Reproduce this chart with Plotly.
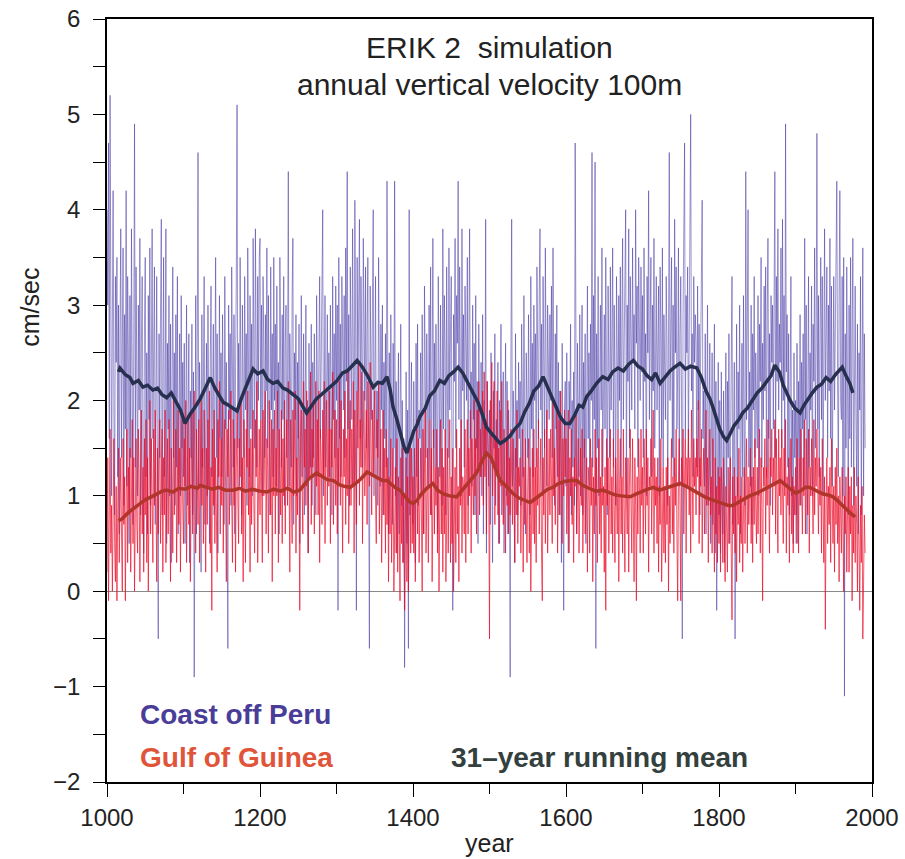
import plotly.graph_objects as go

# ---------------- data (values in tenths of cm/sec, one per year) ----------------
start_year = 1000

peru_1000s = [40,30,47,16,52,35,10,28,42,19, 8,33,24,35,12,30,6,27,38,14, 22,36,9,29,17,42,11,33,25,5,
              31,14,38,20,7,27,49,13,34,22, 10,30,19,37,8,26,33,15,4,28, 35,12,25,6,31,18,36,9,24,38,
              16,29,34,7,21,33,11,-5,27,14, 30,39,8,24,35,12,19,38,5,26, 17,31,10,28,3,22,34,14,25,9,
              29,13,33,6,20,27,10,31,15,24]
peru_1100s = [12,26,5,22,30,9,18,27,3,21, 14,28,8,23,-9,19,31,6,25,46, 11,24,17,2,29,13,21,33,7,18,
              26,10,30,15,5,24,32,12,20,28, 8,22,35,14,27,4,19,31,16,25, 12,29,20,7,33,17,24,10,-6,30,
              18,27,9,34,21,13,29,6,23,32, 51,15,26,11,35,20,8,30,24,14, 33,19,27,9,36,22,12,31,17,28,
              10,37,24,15,38,29,13,33,20,35]
peru_1200s = [37,18,30,10,33,25,14,29,21,36, 15,31,22,8,34,19,27,12,35,20, 28,11,32,17,24,6,35,21,13,29,
              18,33,9,26,30,14,22,44,11,27, 21,13,31,37,7,25,18,29,10,24, 16,28,5,23,31,12,19,27,8,22,
              30,11,20,4,26,17,13,28,9,24, 14,27,19,8,31,22,12,25,33,16, 23,35,40,10,26,31,13,20,29,17,
              25,12,30,21,8,33,18,27,14,32]
peru_1300s = [20,30,-2,35,16,28,12,33,24,19, 31,14,36,22,44,17,29,9,34,26, 18,38,23,11,41,27,-2,35,21,30,
              39,16,33,25,13,37,28,20,34,15, 27,35,12,-6,32,24,18,30,40,10, 26,33,15,21,9,35,23,11,28,19,
              30,8,24,16,27,13,43,20,6,25, 12,29,18,7,26,15,43,10,22,4, 18,25,6,14,28,9,20,3,16,-8,
              11,23,5,19,-6,40,8,17,24,13]
peru_1400s = [7,22,15,3,26,12,28,9,19,16, 25,10,29,17,6,32,21,14,27,20, 11,30,18,34,8,23,37,15,26,13,
              28,19,6,33,24,12,30,20,9,38, 17,31,25,8,34,21,14,36,19,27, 33,12,-2,29,22,37,15,31,26,43,
              18,34,24,10,38,21,29,13,32,25, 20,35,9,27,38,16,23,11,30,18, 26,8,31,15,22,5,28,17,12,24,
              10,29,6,20,14,39,4,22,16,11]
peru_1500s = [19,7,25,13,3,21,15,27,9,18, 12,24,5,20,16,28,8,17,23,4, 15,26,10,22,6,19,14,-9,25,39,
              11,21,17,3,27,13,20,8,24,16, 22,9,28,15,12,31,18,6,25,19, 14,29,21,8,33,17,26,12,30,20,
              27,13,34,22,16,31,38,19,28,10, 33,24,15,36,21,11,30,25,18,29, 20,32,14,36,23,9,27,17,30,12,
              24,8,21,16,3,26,13,-2,19,22]
peru_1600s = [11,25,14,4,22,17,28,8,20,13, 23,9,47,15,6,26,18,12,29,10, 19,30,8,24,14,27,5,21,32,16,
              25,11,28,20,46,13,31,18,45,-6, 27,15,33,10,24,30,19,36,12,22, 29,17,35,21,8,32,24,14,34,19,
              26,36,13,30,22,9,33,25,17,31, 20,34,12,28,37,18,26,31,40,10, 30,22,38,15,33,27,19,36,24,29,
              17,40,26,32,13,35,28,20,34,23]
peru_1700s = [31,14,36,22,27,10,33,25,42,18, 28,35,12,30,21,37,15,26,33,19, 24,32,10,34,27,16,36,13,29,22,
              18,33,26,9,31,46,20,28,35,14, 30,12,39,25,34,17,23,36,11,27, 33,20,-5,29,36,47,16,31,25,34,
              14,30,38,50,21,27,12,33,24,29, 26,13,32,19,28,8,25,34,41,16, 21,11,27,6,24,30,9,18,26,5,
              19,25,7,15,28,4,22,-2,13,24]
peru_1800s = [8,20,4,23,12,6,21,3,17,25, 9,22,14,27,5,18,26,33,7,20, 24,-5,15,28,10,23,17,30,6,21,
              26,12,31,16,9,44,18,28,40,13, 23,11,30,7,27,19,33,14,25,20, 15,31,10,28,22,35,13,26,18,32,
              21,34,12,29,37,16,27,9,31,24, 30,17,35,44,14,33,22,38,19,28, 24,36,15,39,20,31,11,49,23,29,
              13,27,8,22,33,10,19,5,25,14]
peru_1900s = [20,8,26,5,22,14,29,9,24,17, 27,11,37,18,30,6,23,33,13,25, 19,32,10,28,22,36,15,26,48,17,
              31,12,27,35,18,33,10,29,38,20, 25,34,14,30,21,37,16,32,11,27, 33,19,29,38,43,22,12,31,42,20,
              18,33,10,35,-11,27,15,34,24,8, 30,16,35,13,27,37,9,24,32,18, 11,28,6,25,19,33,8,22,36,10,
              27,15]

guinea_1000s = [2,14,-1,12,17,4,9,0,13,16, 5,1,11,-1,8,15,3,10,14,6, 0,16,7,12,-1,9,17,3,13,8,
                15,2,11,18,5,14,0,10,16,7, 4,17,12,1,15,19,6,13,2,16, 8,18,3,14,0,11,20,6,16,10,
                3,17,9,19,12,1,15,6,14,18, 5,11,17,2,14,8,19,3,12,16, 6,18,10,1,15,12,4,20,8,13,
                17,3,12,19,7,15,2,13,18,9]
guinea_1100s = [5,16,11,20,3,13,18,7,15,1, 12,19,6,14,21,9,4,17,13,7, 18,3,12,20,9,15,5,19,11,2,
                15,7,18,11,21,4,13,-2,17,9, 19,5,14,10,2,18,12,22,6,16, 9,20,4,14,18,11,1,17,12,19,
                7,15,21,10,3,18,9,16,2,13, 19,10,5,16,12,20,6,14,1,18, 11,3,17,13,21,8,15,2,16,7,
                14,19,9,4,18,12,22,3,10,17]
guinea_1200s = [8,18,12,3,19,10,14,21,6,16, 13,4,20,15,8,18,1,17,10,19, 6,15,10,21,3,17,12,8,19,5,
                16,10,20,6,14,18,9,22,12,2, 18,12,5,19,10,16,21,4,14,8, 20,10,-2,16,19,11,6,22,13,17,
                9,21,15,4,19,12,23,7,17,13, 20,6,15,22,11,18,8,21,3,17, 14,7,19,12,22,5,16,20,9,17,
                11,21,5,17,13,23,7,15,19,9]
guinea_1300s = [18,6,15,11,22,9,20,13,4,17, 12,21,7,16,10,23,5,15,20,9, 17,11,22,4,19,13,7,21,15,24,
                9,18,13,23,5,16,21,10,14,19, 7,22,16,11,24,14,8,19,12,18, 21,10,5,18,14,22,6,12,17,3,
                11,19,8,15,4,17,7,14,1,12, 6,16,3,11,15,0,10,13,4,16, 2,12,7,-1,14,5,15,3,10,-2,
                7,14,1,12,0,10,16,4,15,5]
guinea_1400s = [12,4,15,1,13,18,6,16,3,11, 15,8,0,17,6,13,19,4,12,15, 3,13,18,8,15,1,11,17,6,13,
                9,17,4,13,0,11,18,6,15,2, 13,6,17,1,11,15,4,9,18,3, 12,5,15,0,9,13,3,17,6,11,
                1,15,9,18,4,12,11,6,17,3, 13,18,6,15,10,19,4,16,12,8, 20,10,16,6,19,13,22,8,17,12,
                15,21,9,23,12,18,6,22,16,11]
guinea_1500s = [-5,20,14,24,10,18,22,7,16,13, 21,8,15,5,19,11,22,12,7,17, 12,4,16,9,20,6,14,8,17,11,
                7,16,10,3,15,8,19,5,13,11, 14,4,11,17,2,13,7,16,9,3, 11,16,4,13,0,9,15,6,17,5,
                13,3,15,9,18,6,11,16,4,-1, 14,8,17,5,12,19,4,11,16,8, 17,12,5,20,10,15,7,14,19,4,
                12,18,8,21,13,5,16,10,19,12]
guinea_1600s = [16,6,12,19,4,14,10,17,7,12, 3,14,11,19,6,12,16,4,11,15, 9,17,4,12,16,6,11,14,2,13,
                11,4,16,9,14,1,12,6,17,9, 14,3,11,16,6,12,4,17,9,11, 2,13,-2,16,9,14,4,11,17,6,
                12,4,16,9,3,14,11,6,17,1, 11,16,6,12,4,17,9,2,14,11, 6,14,2,12,17,9,4,16,11,1,
                14,9,-1,12,6,16,11,4,17,9]
guinea_1700s = [13,4,16,11,6,17,9,14,2,12, 11,16,6,12,19,4,14,9,12,5, 14,2,11,7,16,1,9,13,4,11,
                3,13,7,14,0,10,5,11,16,6, 12,4,14,9,17,6,-1,11,16,9, -1,14,11,17,6,12,16,4,14,11,
                17,8,14,4,19,12,6,16,11,14, 8,16,12,20,5,14,11,17,4,12, 15,6,12,19,9,14,3,11,17,8,
                12,4,16,9,2,14,6,11,3,13]
guinea_1800s = [5,12,2,13,7,3,14,9,1,11, 7,2,13,5,10,14,4,-3,12,6, 13,4,10,1,12,7,15,3,10,5,
                12,2,8,13,5,10,16,4,12,7, 10,15,5,12,3,13,7,16,9,5, 13,6,11,17,4,14,9,-1,13,11,
                16,6,13,9,18,11,4,14,12,17, 8,14,11,18,6,16,12,4,17,10, 14,8,17,12,5,15,10,18,4,12,
                9,14,3,11,16,6,12,4,11,8]
guinea_1900s = [13,5,16,11,4,14,9,17,12,6, 14,10,18,6,16,12,8,17,4,13, 10,16,12,6,18,8,14,11,17,12,
                6,14,9,13,4,16,11,3,12,-4, 9,14,5,11,7,13,3,16,10,5, 11,2,13,7,15,5,10,1,12,7,
                4,13,8,0,10,6,12,2,8,13, 2,11,6,12,-1,9,4,13,3,10, 7,0,12,5,-2,9,3,11,-5,1,
                8,4]

# 31-year running means
peru_mean_years = [1015,1017,1024,1030,1034,1041,1047,1053,1060,1066,1072,1078,1084,1090,1096,1102,1108,
                   1115,1122,1128,1135,1141,1147,1152,1157,1164,1170,1176,1183,1191,1197,1204,1210,1217,
                   1223,1230,1236,1243,1250,1255,1261,1267,1274,1280,1287,1293,1300,1308,1314,1320,1327,
                   1333,1340,1348,1354,1360,1366,1370,1374,1379,1384,1388,1392,1396,1401,1405,1409,1416,
                   1422,1428,1435,1441,1447,1453,1459,1465,1471,1479,1485,1490,1496,1502,1508,1514,1520,
                   1527,1533,1540,1546,1552,1558,1564,1570,1576,1582,1588,1593,1599,1605,1611,1617,1622,
                   1627,1633,1640,1648,1655,1661,1668,1675,1682,1688,1694,1700,1706,1712,1717,1723,1730,
                   1736,1742,1749,1756,1763,1771,1777,1783,1788,1792,1797,1801,1806,1810,1815,1820,1826,
                   1831,1837,1843,1850,1856,1862,1868,1873,1879,1884,1889,1893,1899,1906,1911,1917,1922,
                   1928,1934,1940,1946,1952,1957,1961,1966,1971,1975]
peru_mean = [2.30,2.34,2.27,2.24,2.18,2.21,2.14,2.16,2.11,2.13,2.06,2.03,2.08,1.98,1.90,1.76,1.85,
             1.93,2.02,2.12,2.24,2.13,2.05,1.98,1.96,1.92,1.89,2.03,2.18,2.33,2.28,2.31,2.22,2.18,
             2.20,2.13,2.11,2.07,2.02,1.95,1.87,1.94,2.02,2.06,2.11,2.15,2.20,2.29,2.31,2.36,2.42,
             2.36,2.27,2.14,2.19,2.18,2.25,2.12,1.93,1.80,1.64,1.52,1.45,1.55,1.68,1.74,1.83,1.92,
             2.05,2.10,2.21,2.18,2.26,2.30,2.35,2.29,2.20,2.08,1.98,1.87,1.72,1.66,1.60,1.55,1.58,
             1.63,1.70,1.76,1.88,1.97,2.10,2.15,2.25,2.14,2.02,1.90,1.82,1.76,1.76,1.84,1.95,1.93,
             2.04,2.10,2.18,2.25,2.22,2.30,2.34,2.31,2.38,2.42,2.36,2.33,2.26,2.22,2.29,2.18,2.25,
             2.31,2.35,2.39,2.33,2.36,2.34,2.24,2.10,2.02,1.93,1.80,1.70,1.62,1.58,1.66,1.74,1.80,
             1.87,1.92,2.00,2.08,2.13,2.20,2.26,2.37,2.30,2.16,2.07,2.00,1.92,1.87,1.95,2.03,2.08,
             2.14,2.17,2.24,2.20,2.27,2.31,2.35,2.26,2.18,2.08]

guinea_mean_years = [1015,1020,1027,1035,1043,1050,1058,1066,1072,1078,1086,1094,1102,1110,1118,1122,
                     1130,1138,1146,1155,1165,1173,1181,1190,1200,1209,1218,1227,1236,1244,1252,1258,
                     1264,1274,1281,1288,1296,1303,1310,1318,1325,1332,1340,1347,1354,1360,1366,1372,
                     1378,1383,1389,1395,1400,1405,1411,1418,1426,1432,1440,1448,1457,1464,1470,1476,
                     1483,1490,1496,1502,1508,1514,1522,1530,1538,1546,1553,1560,1568,1576,1583,1590,
                     1598,1606,1614,1622,1630,1639,1648,1656,1664,1672,1680,1684,1692,1700,1707,1714,
                     1722,1730,1740,1749,1757,1765,1772,1779,1784,1791,1798,1805,1812,1818,1825,1832,
                     1840,1850,1857,1864,1872,1880,1886,1893,1900,1906,1913,1918,1923,1930,1936,1943,
                     1949,1955,1961,1967,1973,1978]
guinea_mean = [0.74,0.76,0.82,0.87,0.92,0.96,0.99,1.02,1.05,1.06,1.04,1.08,1.07,1.10,1.08,1.11,
               1.09,1.07,1.09,1.06,1.06,1.08,1.05,1.07,1.05,1.04,1.07,1.05,1.08,1.04,1.06,1.12,
               1.18,1.24,1.20,1.17,1.16,1.12,1.10,1.09,1.13,1.18,1.25,1.22,1.18,1.16,1.16,1.12,
               1.08,1.06,1.00,0.94,0.92,0.95,1.02,1.08,1.13,1.06,1.02,1.00,0.99,1.06,1.12,1.18,
               1.24,1.36,1.45,1.40,1.28,1.16,1.10,1.03,0.98,0.95,0.93,0.97,1.02,1.07,1.09,1.13,
               1.15,1.16,1.16,1.11,1.08,1.05,1.06,1.03,1.01,1.00,0.99,0.99,1.02,1.05,1.07,1.09,
               1.06,1.08,1.11,1.13,1.10,1.06,1.03,1.00,0.98,0.96,0.94,0.92,0.90,0.90,0.93,0.97,
               1.00,1.03,1.06,1.10,1.13,1.16,1.12,1.07,1.03,1.05,1.09,1.09,1.07,1.04,1.02,1.01,
               0.99,0.95,0.90,0.85,0.81,0.78]

# ---------------- assemble ----------------
peru_tenths = (peru_1000s + peru_1100s + peru_1200s + peru_1300s + peru_1400s +
               peru_1500s + peru_1600s + peru_1700s + peru_1800s + peru_1900s)
guinea_tenths = (guinea_1000s + guinea_1100s + guinea_1200s + guinea_1300s + guinea_1400s +
                 guinea_1500s + guinea_1600s + guinea_1700s + guinea_1800s + guinea_1900s)
peru = [v / 10 for v in peru_tenths]
guinea = [v / 10 for v in guinea_tenths]
years_p = list(range(start_year, start_year + len(peru)))
years_g = list(range(start_year, start_year + len(guinea)))

FONT = "Liberation Sans, Arial, Helvetica, sans-serif"

fig = go.Figure()
fig.add_trace(go.Scatter(x=years_p, y=peru, mode="lines",
                         line=dict(color="rgba(60,45,160,0.5)", width=1)))
fig.add_trace(go.Scatter(x=years_g, y=guinea, mode="lines",
                         line=dict(color="rgba(235,10,40,0.68)", width=1)))
fig.add_trace(go.Scatter(x=peru_mean_years, y=peru_mean, mode="lines",
                         line=dict(color="#27304f", width=3.5)))
fig.add_trace(go.Scatter(x=guinea_mean_years, y=guinea_mean, mode="lines",
                         line=dict(color="#b2352c", width=3.5)))

ann = []
ann.append(dict(text="ERIK 2  simulation", x=0.5, y=0.963, xref="paper", yref="paper",
                showarrow=False, font=dict(size=30, color="#222"), xanchor="center", yanchor="middle"))
ann.append(dict(text="annual vertical velocity 100m", x=0.5, y=0.9135, xref="paper", yref="paper",
                showarrow=False, font=dict(size=30, color="#222"), xanchor="center", yanchor="middle"))
ann.append(dict(text="<b>Coast off Peru</b>", x=0.0405, y=0.088, xref="paper", yref="paper",
                showarrow=False, font=dict(size=28, color="#4a3d98"), xanchor="left", yanchor="middle"))
ann.append(dict(text="<b>Gulf of Guinea</b>", x=0.0405, y=0.0315, xref="paper", yref="paper",
                showarrow=False, font=dict(size=28, color="#e0553a"), xanchor="left", yanchor="middle"))
ann.append(dict(text="<b>31–year running mean</b>", x=0.644, y=0.0315, xref="paper", yref="paper",
                showarrow=False, font=dict(size=28, color="#33403e"), xanchor="center", yanchor="middle"))
ann.append(dict(text="cm/sec", x=-0.101, y=0.6225, xref="paper", yref="paper", textangle=-90,
                showarrow=False, font=dict(size=25, color="#222"), xanchor="center", yanchor="middle"))
ann.append(dict(text="year", x=0.5, y=-0.08, xref="paper", yref="paper",
                showarrow=False, font=dict(size=25, color="#222"), xanchor="center", yanchor="middle"))

fig.update_layout(
    width=905, height=859,
    margin=dict(l=107, r=33, t=19, b=77, autoexpand=False),
    paper_bgcolor="white", plot_bgcolor="white",
    showlegend=False,
    font=dict(family=FONT, color="#222"),
    annotations=ann,
)
fig.update_xaxes(range=[1000, 2000], tickmode="linear", tick0=1000, dtick=200, automargin=False,
                 showgrid=False, zeroline=False, showline=True, mirror=True,
                 linecolor="black", linewidth=1.5, ticks="outside", ticklen=13, tickwidth=1.2,
                 tickcolor="black", tickfont=dict(size=24, color="#222"),
                 minor=dict(dtick=100, tick0=1000, ticks="outside", ticklen=10, tickwidth=1.2, tickcolor="black"))
fig.update_yaxes(range=[-2, 6], tickmode="linear", tick0=-2, dtick=1, automargin=False,
                 showgrid=False, zeroline=True, zerolinecolor="#8a8a8a", zerolinewidth=1.2,
                 showline=True, mirror=True,
                 linecolor="black", linewidth=1.5, ticks="outside", ticklen=12, tickwidth=1.2,
                 tickcolor="black", tickfont=dict(size=24, color="#222"), ticklabelstandoff=8,
                 minor=dict(dtick=0.5, tick0=-2, ticks="outside", ticklen=12, tickwidth=1.2, tickcolor="black"))

fig.write_html("out.html")
